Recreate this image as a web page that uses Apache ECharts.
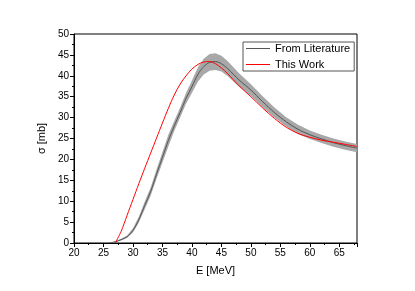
<!DOCTYPE html>
<html><head><meta charset="utf-8">
<script src="https://cdn.jsdelivr.net/npm/echarts@6/dist/echarts.min.js"></script>
<style>html,body{margin:0;padding:0;background:#fff}#c{width:415px;height:291px}</style>
</head><body><div id="c"></div>
<script>
var litE     = [26, 27, 28, 29, 30, 31, 32, 33, 34, 35, 36, 37, 38, 39, 40, 41, 42, 43, 44, 45, 46, 47, 48, 50, 52, 54, 56, 58, 60, 62, 64, 66, 68];
var litSigma = [0, 0.3, 0.8, 1.5, 3.0, 5.6, 9.0, 12.3, 16.5, 20.5, 24.5, 28.0, 31.2, 34.6, 37.4, 40.3, 42.2, 43.2, 43.4, 42.9, 41.8, 40.4, 39.0, 36.6, 33.8, 31.2, 29.0, 27.2, 25.9, 24.9, 24.0, 23.3, 22.7];
var litErr   = [0, 0.1, 0.2, 0.3, 0.5, 0.7, 0.9, 1.0, 1.1, 1.3, 1.4, 1.2, 1.2, 1.3, 1.5, 1.7, 1.9, 2.0, 2.0, 1.9, 1.8, 1.7, 1.6, 1.4, 1.3, 1.2, 1.1, 1.1, 1.0, 1.0, 1.0, 1.0, 1.0];
var workE     = [27, 28, 29, 30, 31, 32, 33, 34, 35, 36, 37, 38, 39, 40, 41, 42, 43, 44, 45, 46, 47, 48, 50, 52, 54, 56, 58, 60, 62, 64, 66, 68];
var workSigma = [0, 2.8, 6.6, 10.4, 14.2, 17.9, 21.5, 25.1, 28.7, 32.2, 35.4, 38.0, 40.0, 41.6, 42.7, 43.3, 43.4, 42.9, 41.9, 40.6, 39.1, 37.6, 35.0, 32.3, 29.8, 27.7, 26.2, 25.3, 24.6, 24.1, 23.6, 23.1];
var xTicks = [20, 25, 30, 35, 40, 45, 50, 55, 60, 65];

var bandData = litE.map(function(e, i){ return [e, litSigma[i] - litErr[i], litSigma[i] + litErr[i]]; });
var center = litE.map(function(e, i){ return [e, litSigma[i]]; });
var work = workE.map(function(e, i){ return [e, workSigma[i]]; });

var font = 'Liberation Sans, Arial, sans-serif';
var chart = echarts.init(document.getElementById('c'), null, {renderer: 'canvas'});
chart.setOption({
  animation: false,
  backgroundColor: '#fff',
  textStyle: {fontFamily: font},
  grid: {left: 74, top: 34, right: 58, bottom: 48, show: true, borderColor: '#000', borderWidth: 1, backgroundColor: 'transparent'},
  legend: {
    data: ['From Literature', 'This Work'],
    orient: 'vertical', left: 243, top: 42,
    icon: 'rect', itemWidth: 24, itemHeight: 1, itemGap: 5,
    padding: [1, 4, 1, 3],
    borderColor: '#555', borderWidth: 1, borderRadius: 0,
    textStyle: {fontFamily: font, fontSize: 11, color: '#000'}
  },
  xAxis: {
    type: 'value', min: 20, max: 68, interval: 5,
    name: 'E [MeV]', nameLocation: 'middle', nameGap: 22,
    nameTextStyle: {fontFamily: font, fontSize: 11, color: '#000'},
    axisLine: {lineStyle: {color: '#000', width: 1}},
    axisTick: {length: 4, lineStyle: {color: '#000'}},
    minorTick: {show: true, splitNumber: 2, length: 2, lineStyle: {color: '#000'}},
    axisLabel: {fontFamily: font, fontSize: 10, color: '#000', margin: 5, customValues: xTicks},
    splitLine: {show: false}
  },
  yAxis: {
    type: 'value', min: 0, max: 50, interval: 5,
    name: 'σ [mb]', nameLocation: 'middle', nameGap: 26,
    nameTextStyle: {fontFamily: font, fontSize: 11, color: '#000'},
    axisLine: {lineStyle: {color: '#000', width: 1}},
    axisTick: {length: 4, lineStyle: {color: '#000'}},
    minorTick: {show: true, splitNumber: 2, length: 2, lineStyle: {color: '#000'}},
    axisLabel: {fontFamily: font, fontSize: 10, color: '#000', margin: 5},
    splitLine: {show: false}
  },
  series: [
    {type: 'custom', silent: true, z: 1, clip: true,
     data: bandData,
     encode: {x: 0, y: [1, 2]},
     renderItem: function(params, api){
       if (params.dataIndex !== 0) return null;
       var up = [], lo = [];
       for (var i = 0; i < bandData.length; i++) {
         up.push(api.coord([bandData[i][0], bandData[i][2]]));
         lo.push(api.coord([bandData[i][0], bandData[i][1]]));
       }
       var pts = up.concat(lo.reverse());
       return {type: 'polygon', shape: {points: pts, smooth: 0}, style: {fill: '#a8a8a8', stroke: null}};
     }},
    {name: 'From Literature', type: 'line', data: center, smooth: 0.3, symbol: 'none',
     itemStyle: {color: '#555'}, lineStyle: {color: '#555', width: 1}, z: 3},
    {name: 'This Work', type: 'line', data: work, smooth: 0.3, symbol: 'none',
     itemStyle: {color: '#ff0000'}, lineStyle: {color: '#ff0000', width: 1}, z: 4}
  ]
});
</script></body></html>
